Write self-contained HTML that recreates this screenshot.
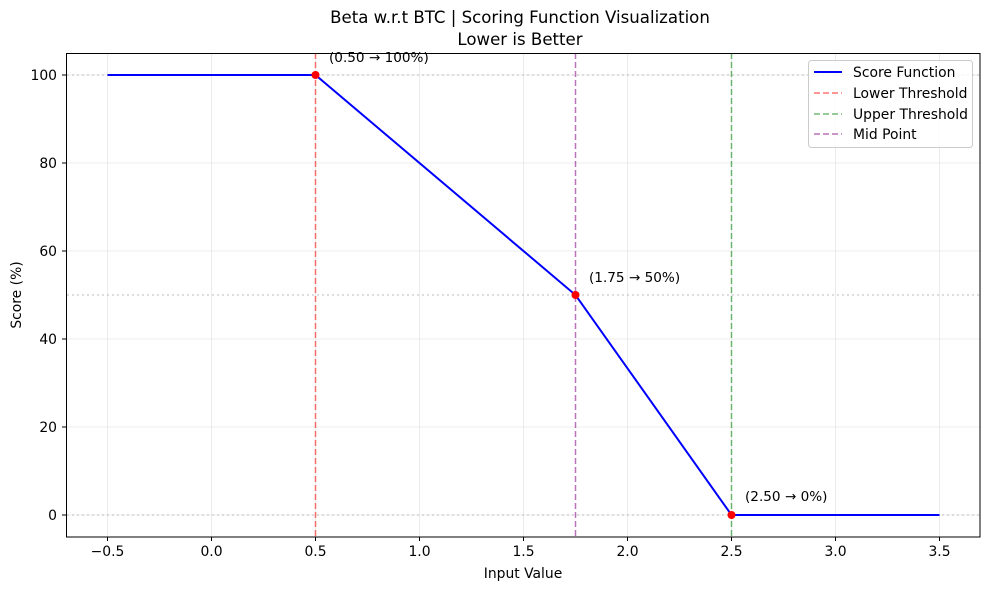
<!DOCTYPE html>
<html><head><meta charset="utf-8"><style>
body{margin:0;background:#fff;}
text{font-family:"DejaVu Sans","Liberation Sans",sans-serif;fill:#000;}
</style></head><body>
<svg width="989" height="590" viewBox="0 0 989 590" xmlns="http://www.w3.org/2000/svg">
<rect width="989" height="590" fill="#fff"/>
<g stroke="#e6e6e6" stroke-width="0.8">
<line x1="107.5" y1="53" x2="107.5" y2="537"/>
<line x1="211.5" y1="53" x2="211.5" y2="537"/>
<line x1="315.5" y1="53" x2="315.5" y2="537"/>
<line x1="419.5" y1="53" x2="419.5" y2="537"/>
<line x1="523.5" y1="53" x2="523.5" y2="537"/>
<line x1="627.5" y1="53" x2="627.5" y2="537"/>
<line x1="731.5" y1="53" x2="731.5" y2="537"/>
<line x1="835.5" y1="53" x2="835.5" y2="537"/>
<line x1="939.5" y1="53" x2="939.5" y2="537"/>
<line x1="67" y1="515" x2="980" y2="515"/>
<line x1="67" y1="427" x2="980" y2="427"/>
<line x1="67" y1="339" x2="980" y2="339"/>
<line x1="67" y1="251" x2="980" y2="251"/>
<line x1="67" y1="163" x2="980" y2="163"/>
<line x1="67" y1="75" x2="980" y2="75"/>
</g>
<g stroke="#bbb" stroke-width="1" stroke-dasharray="2,3">
<line x1="67" y1="75" x2="980" y2="75"/>
<line x1="67" y1="295" x2="980" y2="295"/>
<line x1="67" y1="515" x2="980" y2="515"/>
</g>
<line x1="315.5" y1="53" x2="315.5" y2="537" stroke="#ff0000" stroke-opacity="0.55" stroke-width="1.5" stroke-dasharray="6,3"/>
<line x1="731.5" y1="53" x2="731.5" y2="537" stroke="#008000" stroke-opacity="0.55" stroke-width="1.5" stroke-dasharray="6,3"/>
<line x1="575.5" y1="53" x2="575.5" y2="537" stroke="#800080" stroke-opacity="0.55" stroke-width="1.5" stroke-dasharray="6,3"/>
<polyline points="107.5,75 315.5,75 575.5,295 731.5,515 939.5,515" fill="none" stroke="#0000ff" stroke-width="2"/>
<g fill="#ff0000"><circle cx="315.5" cy="75" r="4"/><circle cx="575.5" cy="295" r="4"/><circle cx="731.5" cy="515" r="4"/></g>
<g font-size="13.6">
<text x="329" y="62">(0.50 → 100%)</text>
<text x="589" y="282">(1.75 → 50%)</text>
<text x="745" y="501">(2.50 → 0%)</text>
</g>
<rect x="66.5" y="53.5" width="913.5" height="483.5" fill="none" stroke="#000" stroke-width="1"/>
<g stroke="#000" stroke-width="1">
<line x1="107.5" y1="537" x2="107.5" y2="541"/><line x1="211.5" y1="537" x2="211.5" y2="541"/>
<line x1="315.5" y1="537" x2="315.5" y2="541"/><line x1="419.5" y1="537" x2="419.5" y2="541"/>
<line x1="523.5" y1="537" x2="523.5" y2="541"/><line x1="627.5" y1="537" x2="627.5" y2="541"/>
<line x1="731.5" y1="537" x2="731.5" y2="541"/><line x1="835.5" y1="537" x2="835.5" y2="541"/>
<line x1="939.5" y1="537" x2="939.5" y2="541"/>
<line x1="62" y1="515" x2="66.5" y2="515"/><line x1="62" y1="427" x2="66.5" y2="427"/>
<line x1="62" y1="339" x2="66.5" y2="339"/><line x1="62" y1="251" x2="66.5" y2="251"/>
<line x1="62" y1="163" x2="66.5" y2="163"/><line x1="62" y1="75" x2="66.5" y2="75"/>
</g>
<g font-size="13.9" text-anchor="middle">
<text x="107.5" y="556">−0.5</text><text x="211.5" y="556">0.0</text><text x="315.5" y="556">0.5</text>
<text x="419.5" y="556">1.0</text><text x="523.5" y="556">1.5</text><text x="627.5" y="556">2.0</text>
<text x="731.5" y="556">2.5</text><text x="835.5" y="556">3.0</text><text x="939.5" y="556">3.5</text>
<text x="523" y="578">Input Value</text>
</g>
<g font-size="13.9" text-anchor="end">
<text x="57" y="520">0</text><text x="57" y="432">20</text><text x="57" y="344">40</text>
<text x="57" y="256">60</text><text x="57" y="168">80</text><text x="57" y="80">100</text>
</g>
<text x="21" y="295" font-size="13.9" text-anchor="middle" transform="rotate(-90 21 295)">Score (%)</text>
<g font-size="16.6" text-anchor="middle">
<text x="520" y="23">Beta w.r.t BTC | Scoring Function Visualization</text>
<text x="520" y="45">Lower is Better</text>
</g>
<rect x="808.5" y="60.5" width="164" height="87" rx="3" fill="#fff" fill-opacity="0.8" stroke="#ccc"/>
<line x1="814" y1="72" x2="842" y2="72" stroke="#0000ff" stroke-width="2"/>
<line x1="814" y1="93" x2="842" y2="93" stroke="#ff0000" stroke-opacity="0.55" stroke-width="1.5" stroke-dasharray="6,3"/>
<line x1="814" y1="114" x2="842" y2="114" stroke="#008000" stroke-opacity="0.55" stroke-width="1.5" stroke-dasharray="6,3"/>
<line x1="814" y1="134" x2="842" y2="134" stroke="#800080" stroke-opacity="0.55" stroke-width="1.5" stroke-dasharray="6,3"/>
<g font-size="13.9">
<text x="853" y="77">Score Function</text>
<text x="853" y="98">Lower Threshold</text>
<text x="853" y="119">Upper Threshold</text>
<text x="853" y="139">Mid Point</text>
</g>
</svg>
</body></html>
